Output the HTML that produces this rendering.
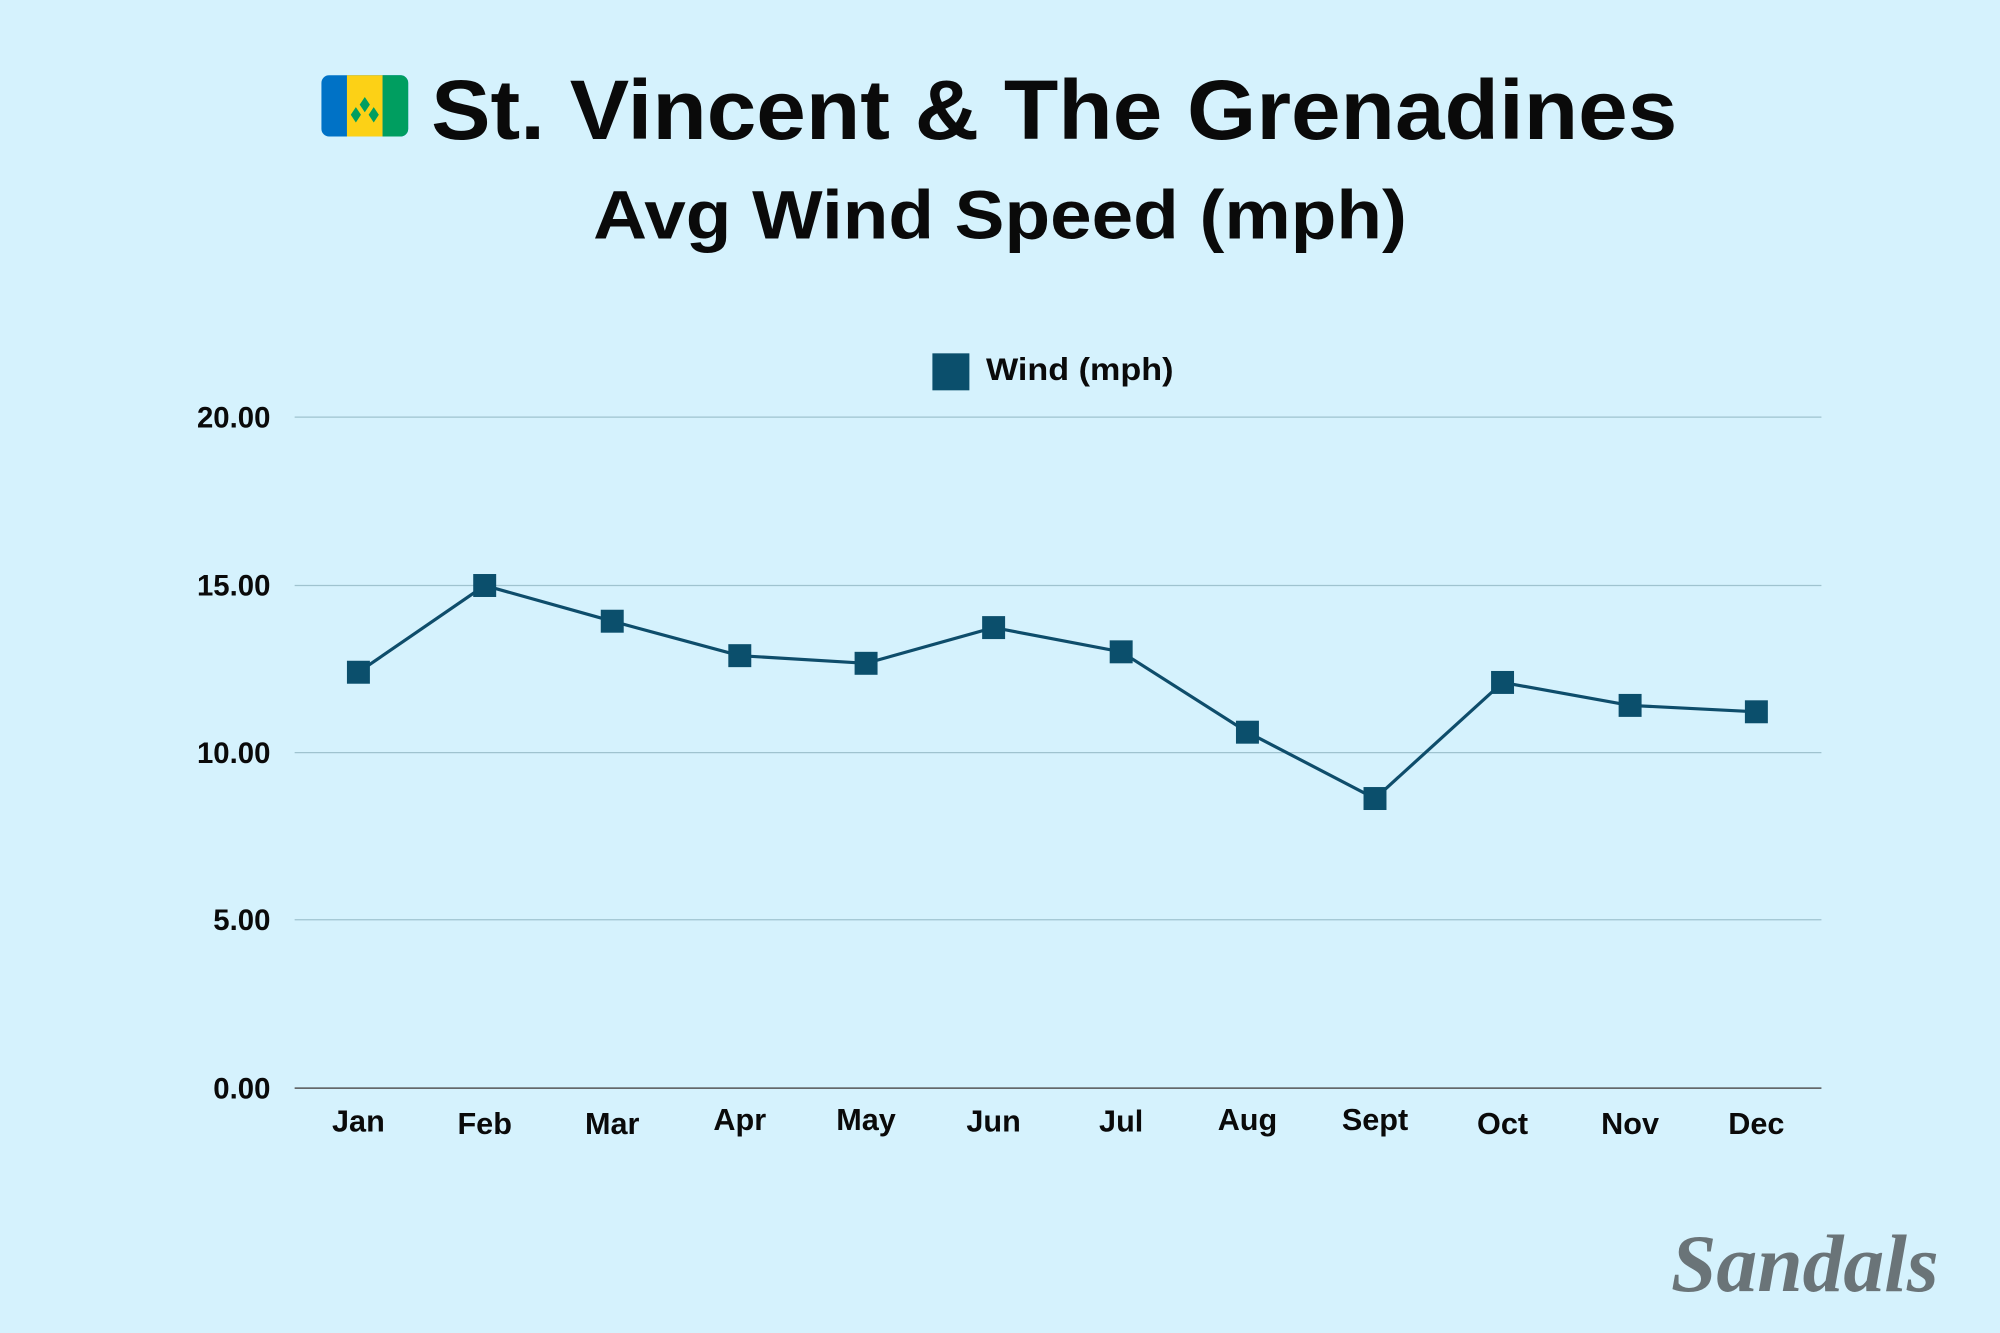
<!DOCTYPE html>
<html><head><meta charset="utf-8"><style>
html,body{margin:0;padding:0;background:#d5f2fd;}
svg{display:block}
text{font-family:"Liberation Sans",sans-serif;font-weight:bold;fill:#0a0a0a}
</style></head><body>
<svg width="2000" height="1333" viewBox="0 0 1568 1045" preserveAspectRatio="none">
<rect width="1568" height="1045" fill="#d5f2fd"/>
<rect x="252" y="59" width="68" height="48" rx="6" fill="#0072c6"/>
<rect x="272" y="59" width="28" height="48" fill="#fcd116"/>
<path d="M300 59h14a6 6 0 0 1 6 6v36a6 6 0 0 1-6 6h-14z" fill="#009e60"/>
<path d="M286 76l4 6-4 6-4-6z M279 84l4 6-4 6-4-6z M293 84l4 6-4 6-4-6z" fill="#009e60"/>
<text x="338" y="109" font-size="66" textLength="977" lengthAdjust="spacingAndGlyphs">St. Vincent &amp; The Grenadines</text>
<text x="465" y="187" font-size="54" textLength="638" lengthAdjust="spacingAndGlyphs">Avg Wind Speed (mph)</text>
<rect x="731" y="277" width="29" height="29" fill="#0b4f6c"/>
<text x="773" y="298" font-size="25" textLength="147" lengthAdjust="spacingAndGlyphs">Wind (mph)</text>
<g stroke="#9fc3cf" stroke-width="1">
<line x1="231" y1="327" x2="1428" y2="327"/>
<line x1="231" y1="459" x2="1428" y2="459"/>
<line x1="231" y1="590" x2="1428" y2="590"/>
<line x1="231" y1="721" x2="1428" y2="721"/>
</g>
<line x1="231" y1="853" x2="1428" y2="853" stroke="#555" stroke-width="1.2"/>
<g font-size="23" text-anchor="end">
<text x="212" y="335">20.00</text>
<text x="212" y="467">15.00</text>
<text x="212" y="598">10.00</text>
<text x="212" y="729">5.00</text>
<text x="212" y="861">0.00</text>
</g>
<g font-size="24" text-anchor="middle">
<text x="281" y="887">Jan</text><text x="380" y="889">Feb</text><text x="480" y="889">Mar</text>
<text x="580" y="886">Apr</text><text x="679" y="886">May</text><text x="779" y="887">Jun</text>
<text x="879" y="887">Jul</text><text x="978" y="886">Aug</text><text x="1078" y="886">Sept</text>
<text x="1178" y="889">Oct</text><text x="1278" y="889">Nov</text><text x="1377" y="889">Dec</text>
</g>
<polyline fill="none" stroke="#0e4d6b" stroke-width="2.5" points="281,527 380,459 480,487 580,514 679,520 779,492 879,511 978,574 1078,626 1178,535 1278,553 1377,558"/>
<g fill="#0b4f6c">
<rect x="272" y="518" width="18" height="18"/><rect x="371" y="450" width="18" height="18"/>
<rect x="471" y="478" width="18" height="18"/><rect x="571" y="505" width="18" height="18"/>
<rect x="670" y="511" width="18" height="18"/><rect x="770" y="483" width="18" height="18"/>
<rect x="870" y="502" width="18" height="18"/><rect x="969" y="565" width="18" height="18"/>
<rect x="1069" y="617" width="18" height="18"/><rect x="1169" y="526" width="18" height="18"/>
<rect x="1269" y="544" width="18" height="18"/><rect x="1368" y="549" width="18" height="18"/>
</g>
<text x="1415" y="1012" font-size="64" text-anchor="middle" style="font-family:'Liberation Serif',serif;font-style:italic;fill:#6a7478">Sandals</text>
</svg>
</body></html>
